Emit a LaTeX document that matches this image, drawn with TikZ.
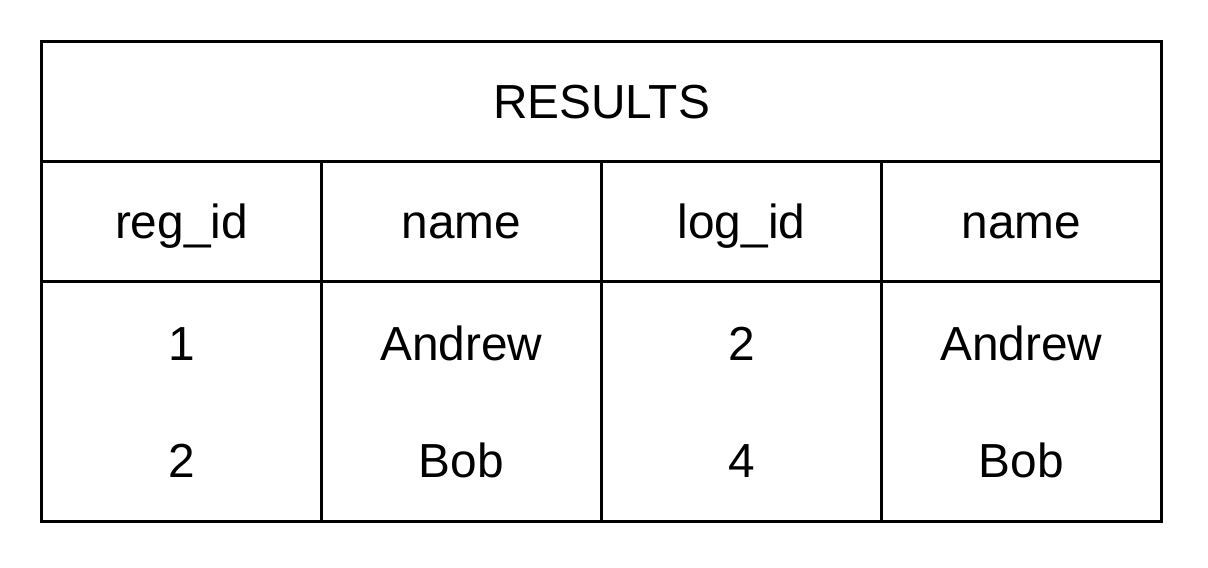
\documentclass[tikz,border=0pt]{standalone}
\usepackage{fontspec}
\setmainfont{Liberation Sans}
\usetikzlibrary{positioning, calc}
\tikzset{
node distance=0mm,
cell/.style={%
    rectangle,
    draw=black,
    line width=0.3mm,
    outer sep=0pt,
    inner sep=0pt,
    minimum width=28mm,
    minimum height=12mm,
},
headcell/.style={%
    cell,
    font=\fontsize{13.6}{16}\selectfont,
    text height=9.7pt, text depth=0pt,
},
titlecell/.style={%
    headcell, minimum width=112mm,
},
datacell/.style={%
    cell, minimum height=24mm,
},
val/.style={%
    inner sep=0pt,
    font=\fontsize{13.6}{16}\selectfont,
    text height=9.7pt, text depth=0pt,
},
}

\begin{document}
\begin{tikzpicture}
	\useasboundingbox (0,0) rectangle (12.08,-5.68);
	\node[titlecell] (title) at (6.015,-1.015) {RESULTS};
	\node[headcell, below right=of title.south west, anchor=north west] (h1) {reg\_id};
	\node[headcell, right=of h1] (h2) {name};
	\node[headcell, right=of h2] (h3) {log\_id};
	\node[headcell, right=of h3] (h4) {name};

	\node[datacell, below=of h1] (d1) {};
	\node[datacell, below=of h2] (d2) {};
	\node[datacell, below=of h3] (d3) {};
	\node[datacell, below=of h4] (d4) {};

	% values
	\node[val] (a1) at ([yshift=5.85mm]d1.center) {1};
	\node[val] (b1) at ([yshift=-5.85mm]d1.center) {2};
	\node[val] (a2) at ([yshift=5.85mm]d2.center) {Andrew};
	\node[val] (b2) at ([yshift=-5.85mm]d2.center) {Bob};
	\node[val] (a3) at ([yshift=5.85mm]d3.center) {2};
	\node[val] (b3) at ([yshift=-5.85mm]d3.center) {4};
	\node[val] (a4) at ([yshift=5.85mm]d4.center) {Andrew};
	\node[val] (b4) at ([yshift=-5.85mm]d4.center) {Bob};

\end{tikzpicture}
\end{document}
